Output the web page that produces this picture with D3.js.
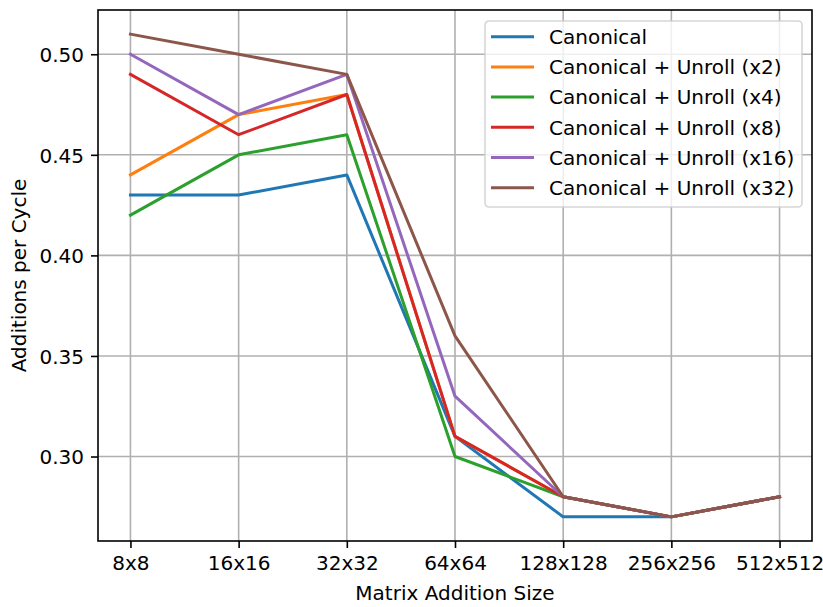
<!DOCTYPE html>
<html>
<head>
<meta charset="utf-8">
<script src="https://cdn.jsdelivr.net/npm/d3@7"></script>
<style>
  html, body { margin: 0; padding: 0; background: #fff; }
  svg { display: block; font-family: "DejaVu Sans", sans-serif; }
</style>
</head>
<body>
<svg id="chart" width="823" height="607"></svg>
<script>
// Matrix sizes along the x axis
const sizes = ["8x8", "16x16", "32x32", "64x64", "128x128", "256x256", "512x512"];

// Additions per cycle for each variant
const canonical   = [0.43, 0.43, 0.44, 0.31, 0.27, 0.27, 0.28];
const unrollX2    = [0.44, 0.47, 0.48, 0.31, 0.28, 0.27, 0.28];
const unrollX4    = [0.42, 0.45, 0.46, 0.30, 0.28, 0.27, 0.28];
const unrollX8    = [0.49, 0.46, 0.48, 0.31, 0.28, 0.27, 0.28];
const unrollX16   = [0.50, 0.47, 0.49, 0.33, 0.28, 0.27, 0.28];
const unrollX32   = [0.51, 0.50, 0.49, 0.36, 0.28, 0.27, 0.28];

const seriesNames = [
  "Canonical",
  "Canonical + Unroll (x2)",
  "Canonical + Unroll (x4)",
  "Canonical + Unroll (x8)",
  "Canonical + Unroll (x16)",
  "Canonical + Unroll (x32)"
];
const seriesValues = [canonical, unrollX2, unrollX4, unrollX8, unrollX16, unrollX32];
const colors = ["#1f77b4", "#ff7f0e", "#2ca02c", "#d62728", "#9467bd", "#8c564b"];

const yTicks = [0.30, 0.35, 0.40, 0.45, 0.50];

const svg = d3.select("#chart");
const plot = { left: 98, right: 812, top: 10, bottom: 541 };

// Index scale with 5% margins on each side
const n = sizes.length;
const xPad = (n - 1) * 0.05;
const x = d3.scaleLinear()
  .domain([-xPad, n - 1 + xPad])
  .range([plot.left, plot.right]);

const allVals = seriesValues.flat();
const yMin = d3.min(allVals), yMax = d3.max(allVals);
const yPad = (yMax - yMin) * 0.05;
const y = d3.scaleLinear()
  .domain([yMin - yPad, yMax + yPad])
  .range([plot.bottom, plot.top]);

// Grid
const grid = svg.append("g").attr("stroke", "#b0b0b0").attr("stroke-width", 1.6);
grid.selectAll("line.gx").data(d3.range(n)).join("line")
  .attr("x1", d => x(d)).attr("x2", d => x(d))
  .attr("y1", plot.top).attr("y2", plot.bottom);
grid.selectAll("line.gy").data(yTicks).join("line")
  .attr("x1", plot.left).attr("x2", plot.right)
  .attr("y1", d => y(d)).attr("y2", d => y(d));

// Series lines
const line = d3.line().x((d, i) => x(i)).y(d => y(d));
svg.append("g").selectAll("path").data(seriesValues).join("path")
  .attr("d", d => line(d))
  .attr("fill", "none")
  .attr("stroke", (d, i) => colors[i])
  .attr("stroke-width", 3)
  .attr("stroke-linejoin", "round")
  .attr("stroke-linecap", "square");

// Axes
const xAxis = d3.axisBottom(x)
  .tickValues(d3.range(n))
  .tickFormat(i => sizes[i])
  .tickSize(7).tickPadding(7);
const gx = svg.append("g")
  .attr("transform", `translate(0,${plot.bottom})`)
  .call(xAxis);

const yAxis = d3.axisLeft(y)
  .tickValues(yTicks)
  .tickFormat(d3.format(".2f"))
  .tickSize(7).tickPadding(7);
const gy = svg.append("g")
  .attr("transform", `translate(${plot.left},0)`)
  .call(yAxis);

[gx, gy].forEach(g => {
  g.select(".domain").remove();
  g.selectAll(".tick line").attr("stroke", "#000").attr("stroke-width", 1.6);
  g.selectAll(".tick text")
    .attr("fill", "#000")
    .attr("font-size", 20)
    .attr("font-family", "DejaVu Sans, sans-serif");
});
gx.selectAll(".tick text").attr("dy", "0.76em");
gy.selectAll(".tick text").attr("dy", "0.36em");

// Frame
svg.append("rect")
  .attr("x", plot.left).attr("y", plot.top)
  .attr("width", plot.right - plot.left)
  .attr("height", plot.bottom - plot.top)
  .attr("fill", "none")
  .attr("stroke", "#000")
  .attr("stroke-width", 1.6);

// Axis titles
svg.append("text")
  .attr("x", (plot.left + plot.right) / 2)
  .attr("y", 600)
  .attr("text-anchor", "middle")
  .attr("font-size", 20)
  .text("Matrix Addition Size");

svg.append("text")
  .attr("transform", `translate(26,${(plot.top + plot.bottom) / 2}) rotate(-90)`)
  .attr("text-anchor", "middle")
  .attr("font-size", 20)
  .text("Additions per Cycle");

// Legend
const legend = svg.append("g").attr("transform", "translate(485,21)");
legend.append("rect")
  .attr("width", 317).attr("height", 186)
  .attr("rx", 4).attr("ry", 4)
  .attr("fill", "#fff").attr("fill-opacity", 0.8)
  .attr("stroke", "#cccccc").attr("stroke-opacity", 0.8)
  .attr("stroke-width", 1.6);

const rows = legend.selectAll("g.row").data(seriesNames).join("g")
  .attr("transform", (d, i) => `translate(0,${15.7 + i * 30.2})`);
rows.append("line")
  .attr("x1", 6).attr("x2", 49)
  .attr("stroke", (d, i) => colors[i])
  .attr("stroke-width", 3);
rows.append("text")
  .attr("x", 64)
  .attr("dy", "0.36em")
  .attr("font-size", 20)
  .attr("fill", "#000")
  .text(d => d);
</script>
</body>
</html>
